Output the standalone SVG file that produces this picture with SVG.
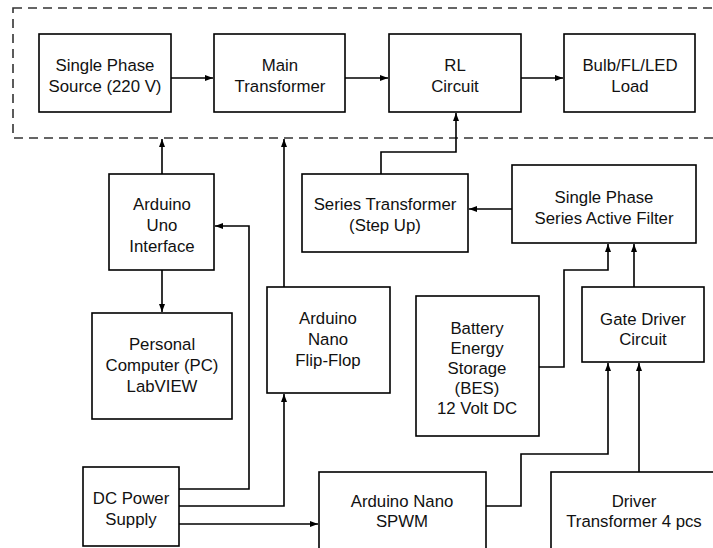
<svg xmlns="http://www.w3.org/2000/svg" width="713" height="548" viewBox="0 0 713 548">
<style>
.box{fill:#fff;stroke:#000;stroke-width:1.6}
.t{font-family:"Liberation Sans",Arial,sans-serif;font-size:16.8px;fill:#111;text-anchor:middle}
.c{fill:none;stroke:#000;stroke-width:1.6}
.dash{fill:none;stroke:#333;stroke-width:1.6;stroke-dasharray:9,6}
</style>
<defs>
<marker id="ah" markerUnits="userSpaceOnUse" markerWidth="10" markerHeight="8" refX="8" refY="4" orient="auto">
<path d="M0,1 L8,4 L0,7 Z" fill="#000"/>
</marker>
</defs>
<rect class="dash" x="13" y="8" width="720" height="130"/>
<g id="connectors">
<path class="c" d="M171,78 H213" marker-end="url(#ah)"/>
<path class="c" d="M345,78 H388" marker-end="url(#ah)"/>
<path class="c" d="M521,78 H563" marker-end="url(#ah)"/>
<path class="c" d="M162,174 V139" marker-end="url(#ah)"/>
<path class="c" d="M284,287 V139" marker-end="url(#ah)"/>
<path class="c" d="M162,270 V312" marker-end="url(#ah)"/>
<path class="c" d="M179,489 H249 V226 H215" marker-end="url(#ah)"/>
<path class="c" d="M179,506 H284 V394" marker-end="url(#ah)"/>
<path class="c" d="M179,524 H318" marker-end="url(#ah)"/>
<path class="c" d="M381,174 V152 H456 V113" marker-end="url(#ah)"/>
<path class="c" d="M512,209 H469" marker-end="url(#ah)"/>
<path class="c" d="M539,367 H564 V270 H608 V244" marker-end="url(#ah)"/>
<path class="c" d="M634,287 V244" marker-end="url(#ah)"/>
<path class="c" d="M486,506 H521 V454 H608 V363" marker-end="url(#ah)"/>
<path class="c" d="M639,472 V363" marker-end="url(#ah)"/>
</g>
<g id="source"><rect class="box" x="39" y="34" width="132" height="78"/><text class="t" x="105" y="71">Single Phase</text><text class="t" x="105" y="92">Source (220 V)</text></g>
<g id="main-transformer"><rect class="box" x="214" y="34" width="131" height="78"/><text class="t" x="280" y="71">Main</text><text class="t" x="280" y="92">Transformer</text></g>
<g id="rl-circuit"><rect class="box" x="389" y="34" width="132" height="78"/><text class="t" x="455" y="71">RL</text><text class="t" x="455" y="92">Circuit</text></g>
<g id="load"><rect class="box" x="564" y="34" width="131" height="78"/><text class="t" x="630" y="71">Bulb/FL/LED</text><text class="t" x="630" y="92">Load</text></g>
<g id="arduino-uno"><rect class="box" x="109" y="174" width="105" height="96"/><text class="t" x="162" y="210">Arduino</text><text class="t" x="162" y="231">Uno</text><text class="t" x="162" y="252">Interface</text></g>
<g id="pc"><rect class="box" x="92" y="313" width="140" height="106"/><text class="t" x="162" y="350">Personal</text><text class="t" x="162" y="371">Computer (PC)</text><text class="t" x="162" y="392">LabVIEW</text></g>
<g id="flip-flop"><rect class="box" x="267" y="287" width="123" height="106"/><text class="t" x="328" y="324">Arduino</text><text class="t" x="328" y="345">Nano</text><text class="t" x="328" y="366">Flip-Flop</text></g>
<g id="series-transformer"><rect class="box" x="302" y="174" width="166" height="78"/><text class="t" x="385" y="210">Series Transformer</text><text class="t" x="385" y="231">(Step Up)</text></g>
<g id="active-filter"><rect class="box" x="512" y="165" width="184" height="78"/><text class="t" x="604" y="203">Single Phase</text><text class="t" x="604" y="224">Series Active Filter</text></g>
<g id="bes"><rect class="box" x="416" y="296" width="123" height="140"/><text class="t" x="477" y="334">Battery</text><text class="t" x="477" y="354">Energy</text><text class="t" x="477" y="374">Storage</text><text class="t" x="477" y="394">(BES)</text><text class="t" x="477" y="414">12 Volt DC</text></g>
<g id="gate-driver"><rect class="box" x="582" y="287" width="122" height="75"/><text class="t" x="643" y="325">Gate Driver</text><text class="t" x="643" y="345">Circuit</text></g>
<g id="dc-supply"><rect class="box" x="83" y="467" width="96" height="79"/><text class="t" x="131" y="504">DC Power</text><text class="t" x="131" y="525">Supply</text></g>
<g id="spwm"><rect class="box" x="319" y="472" width="167" height="90"/><text class="t" x="402" y="507">Arduino Nano</text><text class="t" x="402" y="527">SPWM</text></g>
<g id="driver-transformer"><rect class="box" x="551" y="472" width="170" height="90"/><text class="t" x="634" y="507">Driver</text><text class="t" x="634" y="527">Transformer 4 pcs</text></g>
</svg>
